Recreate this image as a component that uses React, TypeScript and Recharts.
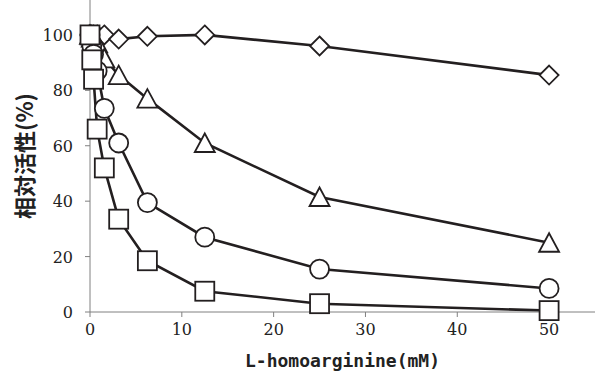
import React from 'react';
import { LineChart, Line, XAxis, YAxis } from 'recharts';

// L-homoarginine concentration (mM)
const conc = [0, 0.195, 0.39, 0.78, 1.56, 3.125, 6.25, 12.5, 25, 50];

// relative activity (%) per series
const diamondVals = [100, 100, 100, 100, 100, 98.5, 99.5, 100, 96, 85.5];
const triangleVals = [100, 99, 98, 97, 91.5, 85.5, 77, 61, 41.5, 25];
const circleVals = [100, 96, 93, 87, 73.5, 61, 39.5, 27, 15.5, 8.5];
const squareVals = [100, 91, 84, 66, 52, 33.5, 18.5, 7.5, 3, 0.5];

const xTicks = [0, 10, 20, 30, 40, 50];
const yTicks = [0, 20, 40, 60, 80, 100];

const data = conc.map((c, i) => ({
  c,
  diamond: diamondVals[i],
  triangle: triangleVals[i],
  circle: circleVals[i],
  square: squareVals[i]
}));

const INK = '#231f20';
const AXIS = '#808080';
const SERIF = "'DejaVu Serif'";

const SquareDot = (p: any) => (
  <rect key={p.key} x={p.cx - 9.5} y={p.cy - 9.5} width={19} height={19} fill="#fff" stroke={INK} strokeWidth={1.8} />
);
const CircleDot = (p: any) => (
  <circle key={p.key} cx={p.cx} cy={p.cy} r={9.5} fill="#fff" stroke={INK} strokeWidth={1.8} />
);
const TriangleDot = (p: any) => (
  <polygon
    key={p.key}
    points={`${p.cx},${p.cy - 9.5} ${p.cx + 10},${p.cy + 9} ${p.cx - 10},${p.cy + 9}`}
    fill="#fff"
    stroke={INK}
    strokeWidth={1.8}
  />
);
const DiamondDot = (p: any) => (
  <polygon
    key={p.key}
    points={`${p.cx},${p.cy - 9.5} ${p.cx + 9.5},${p.cy} ${p.cx},${p.cy + 9.5} ${p.cx - 9.5},${p.cy}`}
    fill="#fff"
    stroke={INK}
    strokeWidth={1.8}
  />
);

const XTick = (p: any) => (
  <text x={p.x} y={p.y} dy={13} textAnchor="middle" fontFamily={SERIF} fontSize={16} fill="#222">
    {p.payload.value}
  </text>
);

const YTick = (p: any) => (
  <text x={p.x} y={p.y} dy={6} textAnchor="end" fontFamily={SERIF} fontSize={16} fill="#222">
    {p.payload.value}
  </text>
);

const YTitle = (props: any) => {
  const vb = props.viewBox;
  const x = vb.x + 23;
  const y = vb.y + vb.height / 2;
  return (
    <text
      x={x}
      y={y}
      transform={`rotate(-90 ${x} ${y})`}
      textAnchor="middle"
      dominantBaseline="central"
      fontFamily="'Noto Sans CJK JP'"
      fontSize={22}
      fontWeight={700}
      fill="#222"
    >
      相対活性(%)
    </text>
  );
};

const XTitle = (props: any) => {
  const vb = props.viewBox;
  const x = vb.x + vb.width / 2;
  const y = vb.y + vb.height - 11;
  return (
    <text
      x={x}
      y={y}
      textAnchor="middle"
      fontFamily="'DejaVu Sans Mono'"
      fontSize={18}
      fontWeight={700}
      fill="#222"
    >
      L-homoarginine(mM)
    </text>
  );
};

const App: React.FC = () => {
  return (
    <div style={{ position: 'absolute', left: 0, top: 0, background: '#fff' }}>
      <LineChart width={596} height={378} data={data} margin={{ top: 0, right: 1, bottom: 0, left: 0 }}>
        <XAxis
          dataKey="c"
          type="number"
          domain={[0, 55]}
          ticks={xTicks}
          tick={<XTick />}
          tickSize={5}
          tickMargin={5}
          height={66}
          stroke={AXIS}
          label={<XTitle />}
        />
        <YAxis
          type="number"
          domain={[0, 112.6]}
          ticks={yTicks}
          tick={<YTick />}
          tickSize={5}
          tickMargin={12}
          width={90}
          stroke={AXIS}
          label={<YTitle />}
        />
        <Line dataKey="diamond" stroke={INK} strokeWidth={2.6} dot={DiamondDot} activeDot={false} isAnimationActive={false} />
        <Line dataKey="triangle" stroke={INK} strokeWidth={2.6} dot={TriangleDot} activeDot={false} isAnimationActive={false} />
        <Line dataKey="circle" stroke={INK} strokeWidth={2.6} dot={CircleDot} activeDot={false} isAnimationActive={false} />
        <Line dataKey="square" stroke={INK} strokeWidth={2.6} dot={SquareDot} activeDot={false} isAnimationActive={false} />
      </LineChart>
    </div>
  );
};

export default App;
